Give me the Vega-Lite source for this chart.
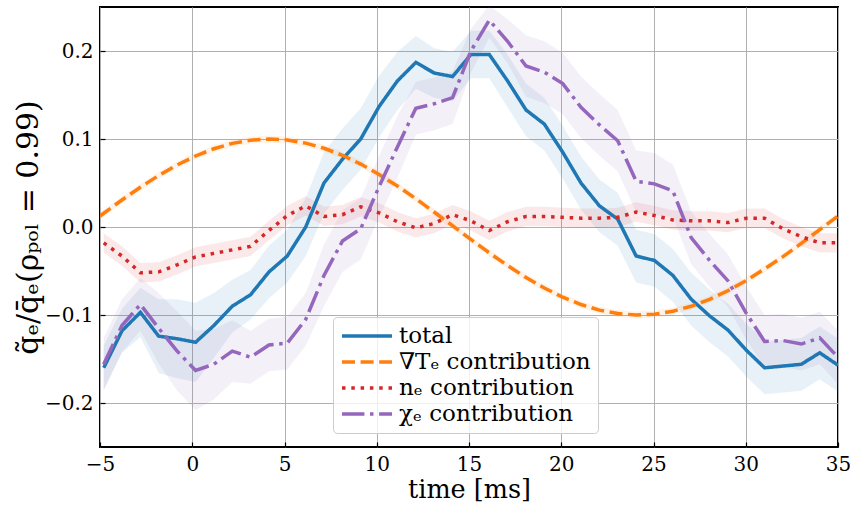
{
  "$schema": "https://vega.github.io/schema/vega-lite/v6.json",
  "width": 738,
  "height": 440,
  "autosize": {"type": "none"},
  "padding": {"left": 100, "top": 7, "right": 12, "bottom": 61},
  "background": "white",
  "config": {
    "font": "DejaVu Serif",
    "style": {
      "guide-label": {"font": "DejaVu Serif", "fontWeight": "normal"},
      "guide-title": {"font": "DejaVu Serif", "fontWeight": "normal"}
    },
    "view": {"stroke": "black", "strokeWidth": 2},
    "axis": {
      "grid": true, "gridColor": "#b0b0b0", "gridWidth": 1, "gridOpacity": 1,
      "domain": false, "tickColor": "black", "tickSize": -5, "tickWidth": 1.2,
      "labelFont": "DejaVu Serif", "labelFontSize": 20, "labelColor": "black", "labelFlush": false,
      "titleFont": "DejaVu Serif", "titleColor": "black", "titleFontWeight": "normal"
    },
    "legend": {
      "orient": "none", "legendX": 233, "legendY": 310, "title": null,
      "symbolType": "M-2.5,0H2.5", "symbolSize": 400, "symbolStrokeWidth": 3.5, "symbolOffset": 15,
      "labelFont": "DejaVu Serif", "labelFontSize": 23, "labelColor": "black", "labelLimit": 500,
      "labelOffset": 20, "fillColor": "rgba(255,255,255,0.8)", "strokeColor": "#cccccc",
      "cornerRadius": 4, "padding": 7, "rowPadding": 2
    }
  },
  "datasets": {
    "total": [
      {"t": -4.80, "y": -0.160, "lo": -0.185, "hi": -0.135},
      {"t": -3.81, "y": -0.118, "lo": -0.143, "hi": -0.093},
      {"t": -2.81, "y": -0.097, "lo": -0.125, "hi": -0.069},
      {"t": -1.82, "y": -0.124, "lo": -0.166, "hi": -0.082},
      {"t": -0.82, "y": -0.127, "lo": -0.172, "hi": -0.082},
      {"t": 0.18, "y": -0.131, "lo": -0.176, "hi": -0.086},
      {"t": 1.17, "y": -0.112, "lo": -0.149, "hi": -0.075},
      {"t": 2.17, "y": -0.090, "lo": -0.120, "hi": -0.060},
      {"t": 3.16, "y": -0.077, "lo": -0.105, "hi": -0.049},
      {"t": 4.16, "y": -0.051, "lo": -0.081, "hi": -0.021},
      {"t": 5.15, "y": -0.033, "lo": -0.063, "hi": -0.003},
      {"t": 6.15, "y": 0.000, "lo": -0.033, "hi": 0.033},
      {"t": 7.14, "y": 0.050, "lo": 0.015, "hi": 0.085},
      {"t": 8.14, "y": 0.077, "lo": 0.042, "hi": 0.112},
      {"t": 9.13, "y": 0.100, "lo": 0.065, "hi": 0.135},
      {"t": 10.13, "y": 0.137, "lo": 0.102, "hi": 0.172},
      {"t": 11.12, "y": 0.166, "lo": 0.133, "hi": 0.199},
      {"t": 12.12, "y": 0.187, "lo": 0.157, "hi": 0.217},
      {"t": 13.11, "y": 0.175, "lo": 0.147, "hi": 0.203},
      {"t": 14.11, "y": 0.171, "lo": 0.143, "hi": 0.199},
      {"t": 15.10, "y": 0.196, "lo": 0.169, "hi": 0.223},
      {"t": 16.10, "y": 0.196, "lo": 0.169, "hi": 0.223},
      {"t": 17.09, "y": 0.166, "lo": 0.136, "hi": 0.196},
      {"t": 18.09, "y": 0.133, "lo": 0.103, "hi": 0.163},
      {"t": 19.08, "y": 0.117, "lo": 0.087, "hi": 0.147},
      {"t": 20.08, "y": 0.085, "lo": 0.055, "hi": 0.115},
      {"t": 21.07, "y": 0.050, "lo": 0.020, "hi": 0.080},
      {"t": 22.07, "y": 0.024, "lo": -0.006, "hi": 0.054},
      {"t": 23.06, "y": 0.009, "lo": -0.021, "hi": 0.039},
      {"t": 24.06, "y": -0.033, "lo": -0.063, "hi": -0.003},
      {"t": 25.05, "y": -0.038, "lo": -0.068, "hi": -0.008},
      {"t": 26.05, "y": -0.055, "lo": -0.085, "hi": -0.025},
      {"t": 27.04, "y": -0.082, "lo": -0.112, "hi": -0.052},
      {"t": 28.04, "y": -0.101, "lo": -0.131, "hi": -0.071},
      {"t": 29.03, "y": -0.117, "lo": -0.147, "hi": -0.087},
      {"t": 30.03, "y": -0.140, "lo": -0.170, "hi": -0.110},
      {"t": 31.02, "y": -0.160, "lo": -0.190, "hi": -0.130},
      {"t": 32.02, "y": -0.158, "lo": -0.188, "hi": -0.128},
      {"t": 33.01, "y": -0.156, "lo": -0.186, "hi": -0.126},
      {"t": 34.01, "y": -0.143, "lo": -0.173, "hi": -0.113},
      {"t": 35.00, "y": -0.157, "lo": -0.187, "hi": -0.127}
    ],
    "gradT": [
      {"t": -5.00, "y": 0.0125, "lo": 0.0085, "hi": 0.0165},
      {"t": -3.81, "y": 0.0307, "lo": 0.0267, "hi": 0.0347},
      {"t": -2.81, "y": 0.0452, "lo": 0.0412, "hi": 0.0492},
      {"t": -1.82, "y": 0.0585, "lo": 0.0545, "hi": 0.0625},
      {"t": -0.82, "y": 0.0705, "lo": 0.0665, "hi": 0.0745},
      {"t": 0.18, "y": 0.0807, "lo": 0.0767, "hi": 0.0847},
      {"t": 1.17, "y": 0.0889, "lo": 0.0849, "hi": 0.0929},
      {"t": 2.17, "y": 0.0950, "lo": 0.0910, "hi": 0.0990},
      {"t": 3.16, "y": 0.0987, "lo": 0.0947, "hi": 0.1027},
      {"t": 4.16, "y": 0.1000, "lo": 0.0960, "hi": 0.1040},
      {"t": 5.15, "y": 0.0989, "lo": 0.0949, "hi": 0.1029},
      {"t": 6.15, "y": 0.0953, "lo": 0.0913, "hi": 0.0993},
      {"t": 7.14, "y": 0.0895, "lo": 0.0855, "hi": 0.0935},
      {"t": 8.14, "y": 0.0815, "lo": 0.0775, "hi": 0.0855},
      {"t": 9.13, "y": 0.0715, "lo": 0.0675, "hi": 0.0755},
      {"t": 10.13, "y": 0.0596, "lo": 0.0556, "hi": 0.0636},
      {"t": 11.12, "y": 0.0465, "lo": 0.0425, "hi": 0.0505},
      {"t": 12.12, "y": 0.0321, "lo": 0.0281, "hi": 0.0361},
      {"t": 13.11, "y": 0.0170, "lo": 0.0130, "hi": 0.0210},
      {"t": 14.11, "y": 0.0014, "lo": -0.0026, "hi": 0.0054},
      {"t": 15.10, "y": -0.0141, "lo": -0.0181, "hi": -0.0101},
      {"t": 16.10, "y": -0.0294, "lo": -0.0334, "hi": -0.0254},
      {"t": 17.09, "y": -0.0438, "lo": -0.0478, "hi": -0.0398},
      {"t": 18.09, "y": -0.0574, "lo": -0.0614, "hi": -0.0534},
      {"t": 19.08, "y": -0.0693, "lo": -0.0733, "hi": -0.0653},
      {"t": 20.08, "y": -0.0798, "lo": -0.0838, "hi": -0.0758},
      {"t": 21.07, "y": -0.0881, "lo": -0.0921, "hi": -0.0841},
      {"t": 22.07, "y": -0.0945, "lo": -0.0985, "hi": -0.0905},
      {"t": 23.06, "y": -0.0984, "lo": -0.1024, "hi": -0.0944},
      {"t": 24.06, "y": -0.1000, "lo": -0.1040, "hi": -0.0960},
      {"t": 25.05, "y": -0.0991, "lo": -0.1031, "hi": -0.0951},
      {"t": 26.05, "y": -0.0957, "lo": -0.0997, "hi": -0.0917},
      {"t": 27.04, "y": -0.0901, "lo": -0.0941, "hi": -0.0861},
      {"t": 28.04, "y": -0.0822, "lo": -0.0862, "hi": -0.0782},
      {"t": 29.03, "y": -0.0725, "lo": -0.0765, "hi": -0.0685},
      {"t": 30.03, "y": -0.0607, "lo": -0.0647, "hi": -0.0567},
      {"t": 31.02, "y": -0.0477, "lo": -0.0517, "hi": -0.0437},
      {"t": 32.02, "y": -0.0337, "lo": -0.0377, "hi": -0.0297},
      {"t": 33.01, "y": -0.0187, "lo": -0.0227, "hi": -0.0147},
      {"t": 34.01, "y": -0.0030, "lo": -0.0070, "hi": 0.0010},
      {"t": 35.00, "y": 0.0125, "lo": 0.0085, "hi": 0.0165}
    ],
    "ne": [
      {"t": -4.80, "y": -0.018, "lo": -0.029, "hi": -0.007},
      {"t": -3.81, "y": -0.033, "lo": -0.044, "hi": -0.022},
      {"t": -2.81, "y": -0.052, "lo": -0.063, "hi": -0.041},
      {"t": -1.82, "y": -0.051, "lo": -0.062, "hi": -0.040},
      {"t": -0.82, "y": -0.043, "lo": -0.054, "hi": -0.032},
      {"t": 0.18, "y": -0.034, "lo": -0.045, "hi": -0.023},
      {"t": 1.17, "y": -0.030, "lo": -0.041, "hi": -0.019},
      {"t": 2.17, "y": -0.026, "lo": -0.037, "hi": -0.015},
      {"t": 3.16, "y": -0.022, "lo": -0.033, "hi": -0.011},
      {"t": 4.16, "y": -0.004, "lo": -0.015, "hi": 0.007},
      {"t": 5.15, "y": 0.013, "lo": 0.002, "hi": 0.024},
      {"t": 6.15, "y": 0.024, "lo": 0.013, "hi": 0.035},
      {"t": 7.14, "y": 0.012, "lo": 0.001, "hi": 0.023},
      {"t": 8.14, "y": 0.014, "lo": 0.003, "hi": 0.025},
      {"t": 9.13, "y": 0.023, "lo": 0.012, "hi": 0.034},
      {"t": 10.13, "y": 0.016, "lo": 0.005, "hi": 0.027},
      {"t": 11.12, "y": 0.006, "lo": -0.005, "hi": 0.017},
      {"t": 12.12, "y": -0.001, "lo": -0.012, "hi": 0.010},
      {"t": 13.11, "y": 0.004, "lo": -0.007, "hi": 0.015},
      {"t": 14.11, "y": 0.014, "lo": 0.003, "hi": 0.025},
      {"t": 15.10, "y": 0.007, "lo": -0.004, "hi": 0.018},
      {"t": 16.10, "y": -0.004, "lo": -0.015, "hi": 0.007},
      {"t": 17.09, "y": 0.006, "lo": -0.005, "hi": 0.017},
      {"t": 18.09, "y": 0.012, "lo": 0.001, "hi": 0.023},
      {"t": 19.08, "y": 0.012, "lo": 0.001, "hi": 0.023},
      {"t": 20.08, "y": 0.011, "lo": 0.000, "hi": 0.022},
      {"t": 21.07, "y": 0.010, "lo": -0.001, "hi": 0.021},
      {"t": 22.07, "y": 0.010, "lo": -0.001, "hi": 0.021},
      {"t": 23.06, "y": 0.011, "lo": 0.000, "hi": 0.022},
      {"t": 24.06, "y": 0.017, "lo": 0.006, "hi": 0.028},
      {"t": 25.05, "y": 0.013, "lo": 0.002, "hi": 0.024},
      {"t": 26.05, "y": 0.008, "lo": -0.003, "hi": 0.019},
      {"t": 27.04, "y": 0.007, "lo": -0.004, "hi": 0.018},
      {"t": 28.04, "y": 0.007, "lo": -0.004, "hi": 0.018},
      {"t": 29.03, "y": 0.005, "lo": -0.006, "hi": 0.016},
      {"t": 30.03, "y": 0.010, "lo": -0.001, "hi": 0.021},
      {"t": 31.02, "y": 0.010, "lo": -0.001, "hi": 0.021},
      {"t": 32.02, "y": -0.002, "lo": -0.013, "hi": 0.009},
      {"t": 33.01, "y": -0.011, "lo": -0.022, "hi": 0.000},
      {"t": 34.01, "y": -0.018, "lo": -0.029, "hi": -0.007},
      {"t": 35.00, "y": -0.018, "lo": -0.029, "hi": -0.007}
    ],
    "chi": [
      {"t": -4.80, "y": -0.156, "lo": -0.186, "hi": -0.126},
      {"t": -3.81, "y": -0.112, "lo": -0.142, "hi": -0.082},
      {"t": -2.81, "y": -0.088, "lo": -0.118, "hi": -0.058},
      {"t": -1.82, "y": -0.115, "lo": -0.155, "hi": -0.075},
      {"t": -0.82, "y": -0.141, "lo": -0.186, "hi": -0.096},
      {"t": 0.18, "y": -0.163, "lo": -0.208, "hi": -0.118},
      {"t": 1.17, "y": -0.156, "lo": -0.196, "hi": -0.116},
      {"t": 2.17, "y": -0.141, "lo": -0.176, "hi": -0.106},
      {"t": 3.16, "y": -0.148, "lo": -0.178, "hi": -0.118},
      {"t": 4.16, "y": -0.134, "lo": -0.164, "hi": -0.104},
      {"t": 5.15, "y": -0.132, "lo": -0.162, "hi": -0.102},
      {"t": 6.15, "y": -0.105, "lo": -0.135, "hi": -0.075},
      {"t": 7.14, "y": -0.055, "lo": -0.090, "hi": -0.020},
      {"t": 8.14, "y": -0.016, "lo": -0.051, "hi": 0.019},
      {"t": 9.13, "y": -0.002, "lo": -0.037, "hi": 0.033},
      {"t": 10.13, "y": 0.046, "lo": 0.011, "hi": 0.081},
      {"t": 11.12, "y": 0.091, "lo": 0.056, "hi": 0.126},
      {"t": 12.12, "y": 0.135, "lo": 0.105, "hi": 0.165},
      {"t": 13.11, "y": 0.140, "lo": 0.110, "hi": 0.170},
      {"t": 14.11, "y": 0.147, "lo": 0.117, "hi": 0.177},
      {"t": 15.10, "y": 0.200, "lo": 0.175, "hi": 0.225},
      {"t": 16.10, "y": 0.235, "lo": 0.215, "hi": 0.252},
      {"t": 17.09, "y": 0.211, "lo": 0.186, "hi": 0.236},
      {"t": 18.09, "y": 0.183, "lo": 0.148, "hi": 0.218},
      {"t": 19.08, "y": 0.176, "lo": 0.141, "hi": 0.211},
      {"t": 20.08, "y": 0.163, "lo": 0.128, "hi": 0.198},
      {"t": 21.07, "y": 0.136, "lo": 0.101, "hi": 0.171},
      {"t": 22.07, "y": 0.116, "lo": 0.081, "hi": 0.151},
      {"t": 23.06, "y": 0.098, "lo": 0.063, "hi": 0.133},
      {"t": 24.06, "y": 0.052, "lo": 0.017, "hi": 0.087},
      {"t": 25.05, "y": 0.049, "lo": 0.014, "hi": 0.084},
      {"t": 26.05, "y": 0.041, "lo": 0.011, "hi": 0.071},
      {"t": 27.04, "y": -0.012, "lo": -0.042, "hi": 0.018},
      {"t": 28.04, "y": -0.038, "lo": -0.068, "hi": -0.008},
      {"t": 29.03, "y": -0.061, "lo": -0.091, "hi": -0.031},
      {"t": 30.03, "y": -0.098, "lo": -0.128, "hi": -0.068},
      {"t": 31.02, "y": -0.130, "lo": -0.160, "hi": -0.100},
      {"t": 32.02, "y": -0.129, "lo": -0.159, "hi": -0.099},
      {"t": 33.01, "y": -0.133, "lo": -0.163, "hi": -0.103},
      {"t": 34.01, "y": -0.126, "lo": -0.156, "hi": -0.096},
      {"t": 35.00, "y": -0.148, "lo": -0.178, "hi": -0.118}
    ]
  },
  "encoding": {
    "x": {
      "field": "t", "type": "quantitative",
      "scale": {"domain": [-5, 35], "nice": false, "zero": false},
      "axis": {"values": [-5, 0, 5, 10, 15, 20, 25, 30, 35], "title": "time [ms]", "titleFontSize": 25.5, "labelPadding": 12, "titlePadding": 3}
    }
  },
  "layer": [
    {"data": {"name": "total"}, "mark": {"type": "area", "opacity": 0.1, "clip": true},
     "encoding": {"y": {"field": "lo", "type": "quantitative", "scale": {"domain": [-0.25, 0.25], "nice": false}, "title": "q̃ₑ/q̄ₑ(ρₚₒₗ = 0.99)"}, "y2": {"field": "hi"}, "color": {"value": "#1f77b4"}}},
    {"data": {"name": "gradT"}, "mark": {"type": "area", "opacity": 0.1, "clip": true},
     "encoding": {"y": {"field": "lo", "type": "quantitative", "scale": {"domain": [-0.25, 0.25], "nice": false}, "title": "q̃ₑ/q̄ₑ(ρₚₒₗ = 0.99)"}, "y2": {"field": "hi"}, "color": {"value": "#ff7f0e"}}},
    {"data": {"name": "ne"}, "mark": {"type": "area", "opacity": 0.1, "clip": true},
     "encoding": {"y": {"field": "lo", "type": "quantitative", "scale": {"domain": [-0.25, 0.25], "nice": false}, "title": "q̃ₑ/q̄ₑ(ρₚₒₗ = 0.99)"}, "y2": {"field": "hi"}, "color": {"value": "#d62728"}}},
    {"data": {"name": "chi"}, "mark": {"type": "area", "opacity": 0.1, "clip": true},
     "encoding": {"y": {"field": "lo", "type": "quantitative", "scale": {"domain": [-0.25, 0.25], "nice": false}, "title": "q̃ₑ/q̄ₑ(ρₚₒₗ = 0.99)"}, "y2": {"field": "hi"}, "color": {"value": "#9467bd"}}},
    {"data": {"name": "total"}, "mark": {"type": "line", "strokeWidth": 3.5, "clip": true},
     "encoding": {
       "y": {"field": "y", "type": "quantitative", "scale": {"domain": [-0.25, 0.25], "nice": false}, "title": "q̃ₑ/q̄ₑ(ρₚₒₗ = 0.99)", "axis": {"values": [-0.2, -0.1, 0, 0.1, 0.2], "format": ".1f", "titleFontSize": 30, "labelPadding": 12, "titlePadding": 1}},
       "color": {"datum": "total", "scale": {"domain": ["total", "∇Tₑ contribution", "nₑ contribution", "χₑ contribution"], "range": ["#1f77b4", "#ff7f0e", "#d62728", "#9467bd"]}},
       "strokeDash": {"datum": "total", "scale": {"domain": ["total", "∇Tₑ contribution", "nₑ contribution", "χₑ contribution"], "range": [[1, 0], [13, 5.6], [3.5, 5.8], [22.4, 5.6, 3.5, 5.6]]}}
     }},
    {"data": {"name": "gradT"}, "mark": {"type": "line", "strokeWidth": 3.5, "clip": true},
     "encoding": {
       "y": {"field": "y", "type": "quantitative", "scale": {"domain": [-0.25, 0.25], "nice": false}, "title": "q̃ₑ/q̄ₑ(ρₚₒₗ = 0.99)"},
       "color": {"datum": "∇Tₑ contribution"},
       "strokeDash": {"datum": "∇Tₑ contribution"}
     }},
    {"data": {"name": "ne"}, "mark": {"type": "line", "strokeWidth": 3.5, "clip": true},
     "encoding": {
       "y": {"field": "y", "type": "quantitative", "scale": {"domain": [-0.25, 0.25], "nice": false}, "title": "q̃ₑ/q̄ₑ(ρₚₒₗ = 0.99)"},
       "color": {"datum": "nₑ contribution"},
       "strokeDash": {"datum": "nₑ contribution"}
     }},
    {"data": {"name": "chi"}, "mark": {"type": "line", "strokeWidth": 3.5, "clip": true},
     "encoding": {
       "y": {"field": "y", "type": "quantitative", "scale": {"domain": [-0.25, 0.25], "nice": false}, "title": "q̃ₑ/q̄ₑ(ρₚₒₗ = 0.99)"},
       "color": {"datum": "χₑ contribution"},
       "strokeDash": {"datum": "χₑ contribution"}
     }}
  ]
}
